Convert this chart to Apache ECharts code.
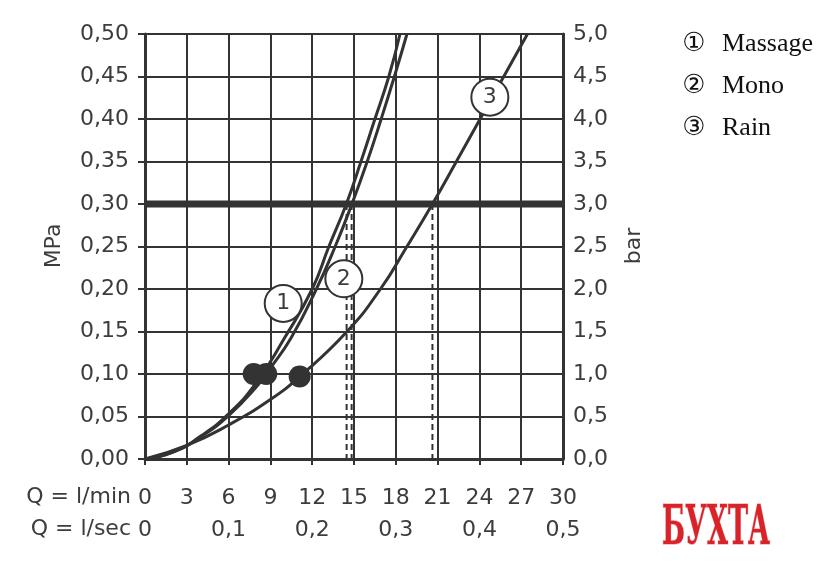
<!DOCTYPE html>
<html>
<head>
<meta charset="utf-8">
<script src="https://cdn.jsdelivr.net/npm/echarts@6/dist/echarts.min.js"></script>
<style>
html, body { margin: 0; padding: 0; background: #fff; }
#chart { width: 840px; height: 563px; }
</style>
</head>
<body>
<div id="chart"></div>
<script>
// flow Q in l/min, pressure P in MPa
const massageQ = [0, 2, 4, 6, 8, 10, 12, 13.2, 14.45, 15.5, 16.5, 17.5, 18.3]
const massageP = [0, 0.008, 0.027, 0.053, 0.09, 0.142, 0.2, 0.25, 0.3, 0.35, 0.4, 0.45, 0.5]
const monoQ = [0, 2, 4, 6, 8, 9, 10.5, 12.3, 13.65, 14.85, 15.95, 16.95, 17.9, 18.8]
const monoP = [0, 0.008, 0.026, 0.051, 0.085, 0.107, 0.143, 0.2, 0.25, 0.3, 0.35, 0.4, 0.45, 0.5]
const rainQ = [0, 3, 6, 9, 11.1, 14.5, 16.9, 18.8, 20.63, 22.35, 24.05, 25.75, 27.45]
const rainP = [0, 0.016, 0.04, 0.07, 0.097, 0.15, 0.2, 0.25, 0.3, 0.35, 0.4, 0.45, 0.5]

// filled dots at 0.1 MPa
const dotQ = [7.8, 8.7, 11.1]
const dotP = [0.1, 0.1, 0.097]

// circled curve numbers
const tagText = ['1', '2', '3']
const tagQ = [9.92, 14.27, 24.75]
const tagP = [0.183, 0.212, 0.4256]

// flow at 0.3 MPa (dashed drop lines)
const refP = 0.3
const dropQ = [14.47, 14.83, 20.63]

// second row of x labels (l/sec)
const secTickQ = [0, 6, 12, 18, 24, 30]
const secTickLabels = ['0', '0,1', '0,2', '0,3', '0,4', '0,5']

const legendNames = ['Massage', 'Mono', 'Rain']
const legendMarks = ['\u2460', '\u2461', '\u2462']

const ink = '#333'
const txt = '#3c3c3c'
const axisFont = 'DejaVu Sans'

function zip(a, b) {
  return a.map((v, i) => [v, b[i]])
}

let chart = echarts.init(document.getElementById('chart'), null, { renderer: 'canvas' })

let curveStyle = {
  type: 'line',
  smooth: 0.5,
  symbol: 'none',
  lineStyle: { color: ink, width: 3 },
  z: 4
}

let series = [
  // thick 0.3 MPa reference
  {
    type: 'line',
    data: [[0, refP], [30, refP]],
    symbol: 'none',
    lineStyle: { color: ink, width: 7 },
    z: 3
  }
]

dropQ.forEach(q => {
  series.push({
    type: 'line',
    data: [[q, refP], [q, 0]],
    symbol: 'none',
    lineStyle: { color: ink, width: 2, type: [6, 4] },
    z: 3
  })
})

series.push(Object.assign({}, curveStyle, { name: 'Massage', data: zip(massageQ, massageP) }))
series.push(Object.assign({}, curveStyle, { name: 'Mono', data: zip(monoQ, monoP) }))
series.push(Object.assign({}, curveStyle, { name: 'Rain', data: zip(rainQ, rainP) }))

series.push({
  type: 'scatter',
  data: zip(dotQ, dotP),
  symbolSize: 22,
  itemStyle: { color: ink, opacity: 1 },
  z: 5
})

series.push({
  type: 'scatter',
  data: tagQ.map((q, i) => [q, tagP[i], tagText[i]]),
  symbolSize: 37,
  itemStyle: { color: '#fff', borderColor: ink, borderWidth: 2, opacity: 1 },
  label: {
    show: true,
    position: 'inside',
    formatter: p => p.data[2],
    fontFamily: axisFont,
    fontSize: 22,
    color: txt
  },
  z: 6
})

let graphics = [
  { type: 'text', x: 54, y: 246, rotation: Math.PI / 2,
    style: { text: 'MPa', font: '22px "DejaVu Sans"', fill: txt, align: 'center', verticalAlign: 'middle' } },
  { type: 'text', x: 634, y: 246, rotation: Math.PI / 2,
    style: { text: 'bar', font: '22px "DejaVu Sans"', fill: txt, align: 'center', verticalAlign: 'middle' } },
  { type: 'text', x: 131, y: 497,
    style: { text: 'Q = l/min', font: '22px "DejaVu Sans"', fill: txt, align: 'right', verticalAlign: 'middle' } },
  { type: 'text', x: 131, y: 529,
    style: { text: 'Q = l/sec', font: '22px "DejaVu Sans"', fill: txt, align: 'right', verticalAlign: 'middle' } },
  { type: 'text', x: 716, y: 530, scaleX: 0.5,
    style: { text: 'БУХТА', font: 'bold 54px "DejaVu Serif"', fill: '#d8232a', stroke: '#f3b5b5', lineWidth: 1.5, align: 'center', verticalAlign: 'middle' } }
]

legendNames.forEach((name, i) => {
  let y = 44 + i * 42
  graphics.push({ type: 'text', x: 694, y: y,
    style: { text: legendMarks[i], font: '26px "DejaVu Sans"', fill: '#111', align: 'center', verticalAlign: 'middle' } })
  graphics.push({ type: 'text', x: 722, y: y,
    style: { text: name, font: '26px "Liberation Serif"', fill: '#111', align: 'left', verticalAlign: 'middle' } })
})

let option = {
  animation: false,
  backgroundColor: '#fff',
  grid: { left: 145, right: 277, top: 34, bottom: 104 },
  xAxis: {
    type: 'value',
    min: 0,
    max: 30,
    interval: 3,
    axisLine: { show: true, lineStyle: { color: ink, width: 3 } },
    axisTick: { show: true, length: 6, lineStyle: { color: ink, width: 2 } },
    splitLine: { show: true, lineStyle: { color: ink, width: 2 } },
    axisLabel: {
      margin: 23,
      fontFamily: axisFont,
      fontSize: 22,
      color: txt,
      lineHeight: 32,
      showMinLabel: true,
      showMaxLabel: true,
      formatter: v => {
        let k = secTickQ.indexOf(v)
        return v + '\n' + (k >= 0 ? secTickLabels[k] : ' ')
      }
    }
  },
  yAxis: [
    {
      type: 'value',
      min: 0,
      max: 0.5,
      interval: 0.05,
      axisLine: { show: true, lineStyle: { color: ink, width: 3 } },
      axisTick: { show: true, length: 7, lineStyle: { color: ink, width: 2 } },
      splitLine: { show: true, lineStyle: { color: ink, width: 2 } },
      axisLabel: {
        margin: 16,
        fontFamily: axisFont,
        fontSize: 22,
        color: txt,
        formatter: v => v.toFixed(2).replace('.', ',')
      }
    },
    {
      type: 'value',
      position: 'right',
      min: 0,
      max: 5,
      interval: 0.5,
      axisLine: { show: true, lineStyle: { color: ink, width: 3 } },
      axisTick: { show: false },
      splitLine: { show: false },
      axisLabel: {
        margin: 10,
        fontFamily: axisFont,
        fontSize: 22,
        color: txt,
        formatter: v => v.toFixed(1).replace('.', ',')
      }
    }
  ],
  graphic: graphics,
  series: series
}

option && chart.setOption(option)
</script>
</body>
</html>
